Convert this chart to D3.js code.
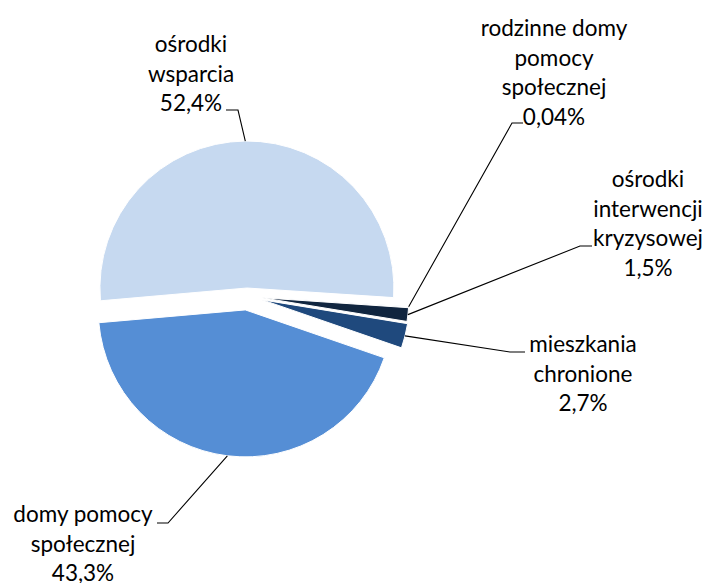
<!DOCTYPE html>
<html>
<head>
<meta charset="utf-8">
<script src="https://cdn.jsdelivr.net/npm/d3@7"></script>
<style>
  body { margin: 0; background: #fff; }
  svg { display: block; }
  .label { font-family: Lato, "Open Sans", sans-serif; font-size: 22.5px; fill: #000; }
  .leader { fill: none; stroke: #000; stroke-width: 1.1; }
</style>
</head>
<body>
<svg width="707" height="583"></svg>
<script>
"use strict";

const categories = [
  "ośrodki wsparcia",
  "rodzinne domy pomocy społecznej",
  "ośrodki interwencji kryzysowej",
  "mieszkania chronione",
  "domy pomocy społecznej"
];
const shares = [52.4, 0.04, 1.5, 2.7, 43.3];
const labelLines = [
  ["ośrodki", "wsparcia"],
  ["rodzinne domy", "pomocy", "społecznej"],
  ["ośrodki", "interwencji", "kryzysowej"],
  ["mieszkania", "chronione"],
  ["domy pomocy", "społecznej"]
];
const colors = ["#c6d9f0", "#8eb4e3", "#10253f", "#1f497d", "#558ed5"];

const svg = d3.select("svg");
const cx = 247, cy = 296, radius = 147;
const explode = [8, 15, 15, 16, 14];
const lineH = 29.5;

// label blocks: text centre x, first baseline, elbow + end of the leader
const labelPos = [
  { x: 191, y: 52, elbow: [238, 110], end: [226, 110] },
  { x: 554, y: 36, elbow: [512, 123], end: [523, 123] },
  { x: 648, y: 187, elbow: [580, 246], end: [592, 246] },
  { x: 583, y: 352, elbow: [510, 352], end: [525, 352] },
  { x: 83, y: 522, elbow: [168, 523], end: [157, 523] }
];

const pl = d3.formatLocale({ decimal: ",", thousands: " ", grouping: [3], currency: ["", " zł"] });
const pct = v => pl.format("~g")(v) + "%";

const data = categories.map((c, i) => ({ name: c, value: shares[i], i }));

const pie = d3.pie()
  .sort(null)
  .value(d => d.value)
  .startAngle(-95 * Math.PI / 180)
  .endAngle(265 * Math.PI / 180);

const arcs = pie(data);
const arc = d3.arc().innerRadius(0).outerRadius(radius);

const offset = (a, e) => {
  const m = (a.startAngle + a.endAngle) / 2;
  return [Math.sin(m) * e, -Math.cos(m) * e];
};

const g = svg.append("g").attr("transform", `translate(${cx},${cy})`);

g.selectAll("path.slice")
  .data(arcs)
  .enter()
  .append("path")
  .attr("class", "slice")
  .attr("d", arc)
  .attr("transform", d => {
    const [ox, oy] = offset(d, explode[d.data.i]);
    return `translate(${ox},${oy})`;
  })
  .attr("fill", d => colors[d.data.i])
  .attr("stroke", "#fff")
  .attr("stroke-width", 1);

// leaders from the slice's outer edge
const outerPoint = d => {
  const m = (d.startAngle + d.endAngle) / 2;
  const rr = radius + explode[d.data.i];
  return [cx + Math.sin(m) * rr, cy - Math.cos(m) * rr];
};

svg.selectAll("path.leader")
  .data(arcs)
  .enter()
  .append("path")
  .attr("class", "leader")
  .attr("d", d => {
    const p = labelPos[d.data.i];
    return d3.line()([outerPoint(d), p.elbow, p.end]);
  });

const labels = svg.selectAll("text.label")
  .data(arcs)
  .enter()
  .append("text")
  .attr("class", "label")
  .attr("text-anchor", "middle");

labels.each(function(d) {
  const p = labelPos[d.data.i];
  const lines = labelLines[d.data.i].concat([pct(d.data.value)]);
  d3.select(this)
    .selectAll("tspan")
    .data(lines)
    .enter()
    .append("tspan")
    .attr("x", p.x)
    .attr("y", (t, k) => p.y + k * lineH)
    .text(t => t);
});
</script>
</body>
</html>
